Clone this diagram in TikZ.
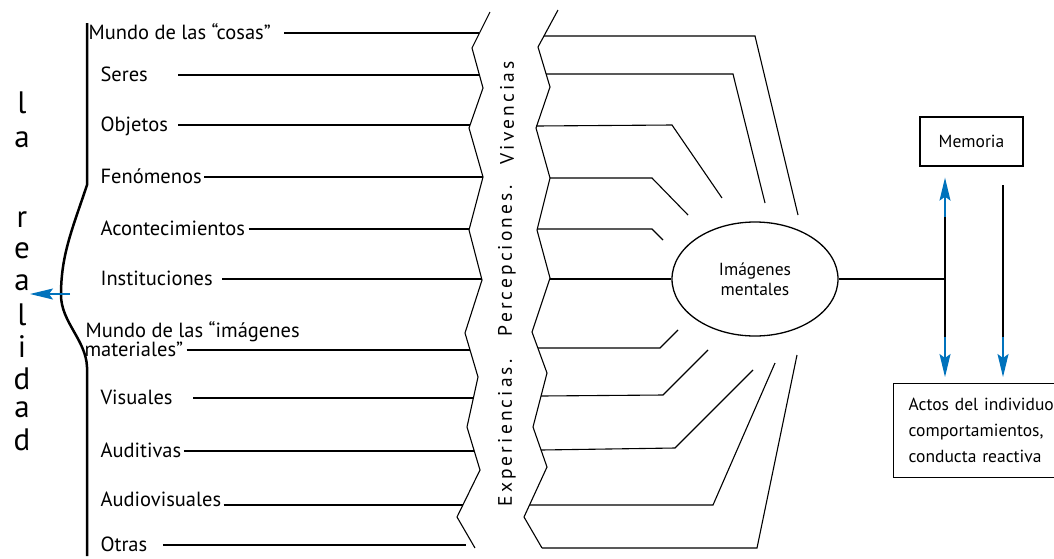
\documentclass[tikz,border=0pt]{standalone}
\usepackage{fontspec}
\setmainfont{PT Sans}
\newfontfamily\espaciada[LetterSpace=16]{PT Sans}
\usetikzlibrary{shapes.geometric,arrows.meta}
\definecolor{azulflecha}{RGB}{0,114,188}

\begin{document}
\begin{tikzpicture}[x=1pt,y=-1pt,line width=1.1pt,
    etiqueta/.style={anchor=west,inner sep=0pt,text height=13pt,text depth=0pt,font=\fontsize{20.5}{22}\selectfont},
    letra/.style={anchor=base,inner sep=0pt,font=\fontsize{31}{33}\selectfont},
    vertical/.style={rotate=90,inner sep=0pt,font=\espaciada\fontsize{19.5}{21}\selectfont},
    caja/.style={draw,line width=1.3pt,font=\fontsize{17.5}{26}\selectfont},
    flecha/.style={azulflecha,line width=1.3pt,-{Stealth[length=23pt,width=11pt,inset=4pt]}}]
\useasboundingbox (0,0) rectangle (1054,558);

% la realidad
\foreach \ch/\y [count=\i] in {l/113,a/147,r/227,e/258,a/290,l/325,i/357,d/389,a/417,d/450}
  \node[letra] (letra\i) at (22,\y) {\ch};
\draw[line width=2.5pt] (87,23) -- (87,185) .. controls (72,230) and (61,255) .. (61,295)
  .. controls (61,322) and (86,340) .. (87,367) -- (87,556);
\coordinate (llave) at (70,294);
\coordinate (real) at (30,294);
\draw[flecha] (llave) -- (real);

% mundo de las cosas / de las imagenes
\node[etiqueta] (imag1) at (85,331) {Mundo de las “imágenes};
\foreach \n/\x/\y/\t/\g/\xe in {
    cosas/88/33/{Mundo de las “cosas”}/13/479,
    seres/100/75/Seres/30/479,
    objetos/100/125/Objetos/10/470,
    fenom/100/177/Fenómenos/2/483,
    acontec/100/229/Acontecimientos/3/469,
    instit/100/279/Instituciones/9/482,
    imag/84/350/{materiales”}/3/470,
    visual/100/398/Visuales/20/473,
    auditiv/100/451/Auditivas/2/474,
    otras/100/545/Otras/15/466}
  {\node[etiqueta] (\n) at (\x,\y) {\t};
   \draw ([xshift=\g]\n.east) -- (\xe,\y);}
\node[etiqueta] (audiov) at (100,500) {Audiovisuales};
\draw (audiov.east) ++(2,5) -- (463,505);

% cortes
\draw (490,12) -- (472,48) -- (483,88) -- (469,128) -- (483,177) -- (469,230) -- (482,280)
  -- (465,333) -- (478,377) -- (467,427) -- (480,470) -- (457,517) -- (475,548);
\draw (558,10) -- (538,47) -- (550,87) -- (536,128) -- (550,178) -- (537,230) -- (550,278)
  -- (532,332) -- (547,373) -- (533,427) -- (547,467) -- (524,517) -- (542,548);
\node[vertical] (viv) at (507,113) {Vivencias};
\node[vertical] (perc) at (507,261) {Percepciones.};
\node[vertical] (expe) at (507,433) {Experiencias.};

% imagenes mentales
\node[draw,ellipse,line width=1.3pt,minimum width=166,minimum height=114,inner sep=0pt,
  align=center,font=\fontsize{17.5}{20}\selectfont] (img) at (755,279) {Imágenes\\mentales};
\foreach \xs/\y/\xb/\yb/\xe/\ye in {544/36/755/36/798/215, 546/74/733/74/765/203,
    536/126/672/125/722/198, 550/178/652/178/688/215, 537/229/652/229/663/240,
    538/348/660/348/678/330, 541/396/663/395/708/350, 541/450/675/448/753/370,
    530/505/713/505/775/363, 542/548/757/548/797/355}
  \draw (\xs,\y) -- (\xb,\yb) -- (\xe,\ye);
\draw (550,279) -- (img.west);

% memoria y actos
\node[caja,minimum width=103,minimum height=49] (mem) at (971.5,141.5) {Memoria};
\node[caja,anchor=north west,minimum height=94,text width=170,inner xsep=15,align=left] (actos)
  at (893,383) {Actos del individuo\\comportamientos,\\conducta reactiva};
\coordinate (nudo) at (945,279);
\draw (img.east) -- (nudo);
\draw (nudo) -- (945,217) coordinate (sube);
\draw[flecha,shorten >=11] (sube) -- (nudo |- mem.south);
\draw (nudo) -- (945,337) coordinate (baja);
\draw[flecha,shorten >=6] (baja) -- (nudo |- actos.north);
\coordinate (desde) at (1003,185);
\draw (desde) -- (1003,337) coordinate (baja2);
\draw[flecha,shorten >=6] (baja2) -- (desde |- actos.north);
\end{tikzpicture}
\end{document}
